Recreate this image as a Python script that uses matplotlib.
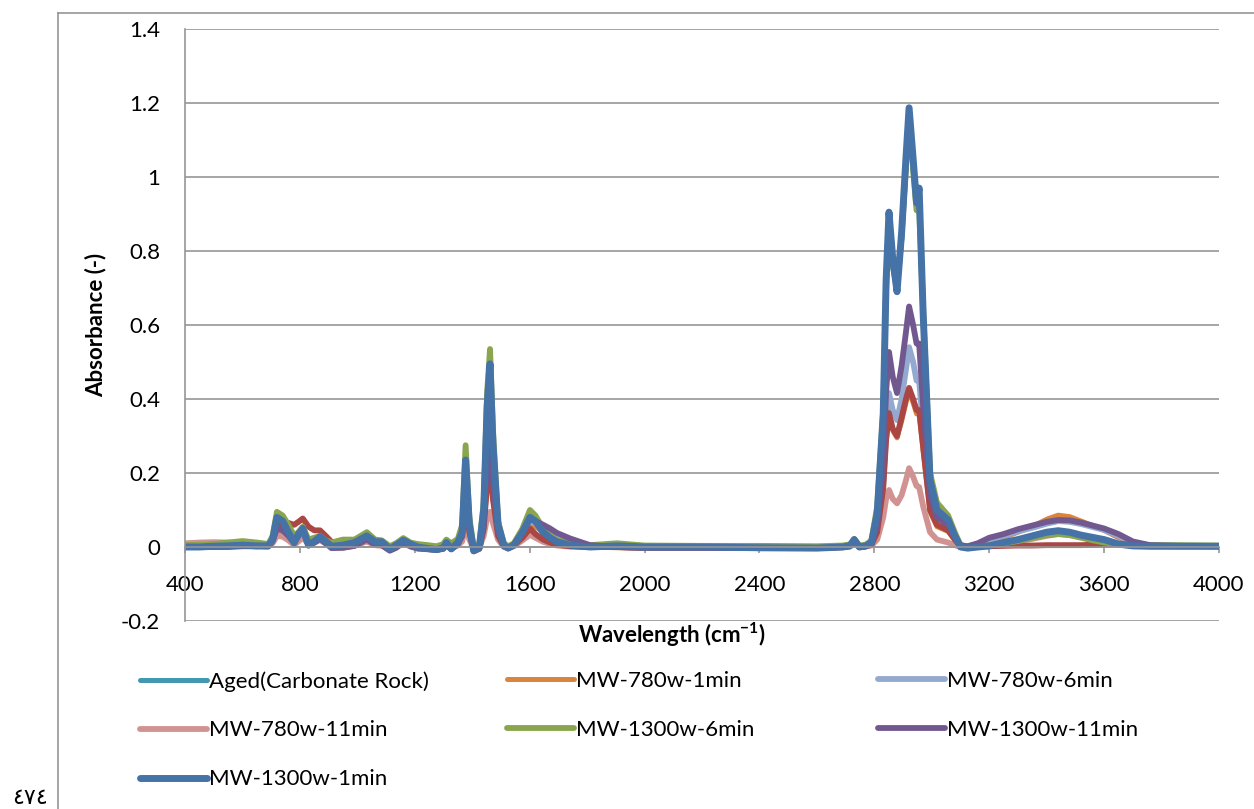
import numpy as np
import matplotlib.pyplot as plt
from matplotlib.lines import Line2D

plt.rcParams['font.family'] = ['Lato', 'DejaVu Sans']
plt.rcParams['mathtext.fontset'] = 'custom'
plt.rcParams['mathtext.rm'] = 'Lato'
plt.rcParams['mathtext.bf'] = 'Lato:bold'

# wavenumber grid (cm-1)
wn = [400, 450, 500, 550, 600, 650, 690, 705, 720, 740, 760, 780, 795, 810, 830, 850, 870, 890, 910, 950, 990,
      1033, 1062, 1085, 1113, 1135, 1160, 1185, 1210, 1245, 1276, 1299, 1310, 1327, 1350,
      1365, 1377, 1390, 1405, 1425, 1440, 1452, 1462, 1472, 1490, 1510, 1525, 1545, 1575, 1601, 1620, 1647, 1671, 1695, 1741, 1810,
      1904, 2000, 2200, 2400, 2600, 2690, 2715, 2730, 2748, 2770, 2790,
      2810, 2831, 2841, 2851, 2864, 2879, 2895, 2910, 2921, 2935, 2947, 2956, 2970, 2994, 3018, 3057, 3080, 3100, 3125, 3160,
      3200, 3250, 3300, 3350, 3400, 3440, 3480, 3520, 3560, 3600, 3650, 3700, 3760, 3850, 4000]

aged = [0.0, 0.0, 0.002, 0.003, 0.004, 0.003, 0.003, 0.018, 0.07, 0.062, 0.036, 0.01, 0.03, 0.045, 0.004, 0.013, 0.025, 0.013, 0.002, 0.004, 0.01,
        0.026, 0.012, 0.012, -0.006, 0.004, 0.016, 0.007, 0.0, -0.004, -0.006, -0.002, 0.01, -0.004, 0.01,
        0.035, 0.21, 0.055, -0.01, 0.0, 0.09, 0.34, 0.45, 0.25, 0.055, 0.004, -0.003, 0.005, 0.035, 0.07, 0.062, 0.036, 0.022, 0.012, 0.004, 0.0,
        0.002, 0.0, 0.0, -0.002, -0.003, 0.0, 0.003, 0.018, 0.0, 0.003, 0.01,
        0.08, 0.34, 0.7, 0.88, 0.76, 0.69, 0.83, 1.02, 1.15, 1.03, 0.92, 0.95, 0.62, 0.17, 0.095, 0.07, 0.028, 0.0, -0.003, 0.0,
        0.003, 0.012, 0.02, 0.03, 0.038, 0.042, 0.038, 0.03, 0.024, 0.018, 0.007, 0.003, 0.002, 0.002, 0.002]

mw780_1 = [0.0, 0.0, 0.0, 0.002, 0.003, 0.002, 0.0, 0.012, 0.045, 0.04, 0.025, 0.006, 0.025, 0.04, 0.003, 0.01, 0.018, 0.008, -0.002, -0.003, 0.002,
           0.016, 0.004, 0.003, -0.01, -0.003, 0.01, 0.0, -0.005, -0.007, -0.009, -0.006, 0.004, -0.007, 0.006,
           0.025, 0.15, 0.04, -0.012, -0.006, 0.045, 0.18, 0.24, 0.13, 0.03, 0.0, -0.005, 0.003, 0.032, 0.06, 0.055, 0.04, 0.028, 0.017, 0.008, 0.0,
           -0.002, -0.004, -0.003, -0.004, -0.004, -0.002, 0.0, 0.012, -0.002, 0.0, 0.005,
           0.04, 0.155, 0.285, 0.355, 0.315, 0.295, 0.34, 0.39, 0.42, 0.39, 0.36, 0.36, 0.26, 0.095, 0.055, 0.042, 0.02, 0.002, 0.0, 0.005,
           0.015, 0.025, 0.04, 0.055, 0.075, 0.086, 0.082, 0.07, 0.058, 0.045, 0.025, 0.01, 0.004, 0.002, 0.002]

mw780_6 = [0.0, 0.0, 0.002, 0.003, 0.004, 0.003, 0.003, 0.015, 0.055, 0.048, 0.03, 0.01, 0.03, 0.045, 0.005, 0.013, 0.022, 0.01, 0.0, 0.0, 0.004,
           0.02, 0.007, 0.006, -0.008, 0.0, 0.012, 0.003, -0.003, -0.005, -0.007, -0.004, 0.006, -0.005, 0.008,
           0.03, 0.16, 0.045, -0.01, -0.004, 0.05, 0.2, 0.27, 0.15, 0.035, 0.003, -0.003, 0.005, 0.038, 0.07, 0.065, 0.05, 0.035, 0.022, 0.012, 0.003,
           0.0, -0.002, -0.002, -0.003, -0.003, 0.0, 0.003, 0.015, 0.0, 0.002, 0.007,
           0.05, 0.18, 0.34, 0.416, 0.37, 0.343, 0.4, 0.48, 0.54, 0.5, 0.45, 0.45, 0.32, 0.12, 0.07, 0.055, 0.025, 0.004, 0.002, 0.008,
           0.02, 0.03, 0.042, 0.052, 0.063, 0.07, 0.068, 0.062, 0.054, 0.046, 0.03, 0.012, 0.004, 0.003, 0.002]

mw780_11 = [0.01, 0.012, 0.013, 0.012, 0.01, 0.008, 0.004, 0.01, 0.03, 0.028, 0.018, 0.005, 0.015, 0.025, 0.008, 0.02, 0.03, 0.02, 0.008, 0.002, 0.004,
            0.015, 0.005, 0.004, -0.006, 0.0, 0.01, 0.002, -0.003, -0.005, -0.006, -0.004, 0.004, -0.004, 0.004,
            0.015, 0.06, 0.02, -0.005, 0.0, 0.03, 0.08, 0.095, 0.065, 0.02, 0.0, -0.003, 0.002, 0.018, 0.033, 0.025, 0.014, 0.008, 0.004, 0.001, 0.0,
            0.0, -0.002, -0.002, -0.002, -0.002, 0.0, 0.002, 0.01, 0.0, 0.002, 0.004,
            0.02, 0.08, 0.13, 0.154, 0.13, 0.118, 0.14, 0.18, 0.213, 0.19, 0.165, 0.162, 0.11, 0.04, 0.02, 0.012, 0.005, 0.0, -0.002, 0.0,
            0.004, 0.01, 0.016, 0.022, 0.03, 0.035, 0.033, 0.027, 0.02, 0.014, 0.006, 0.003, 0.002, 0.002, 0.002]

# red series, drawn but not listed in the legend
unlisted = [0.0, 0.0, 0.0, 0.0, 0.002, 0.002, 0.005, 0.02, 0.055, 0.06, 0.065, 0.06, 0.068, 0.077, 0.055, 0.045, 0.045, 0.03, 0.014, 0.005, 0.008,
            0.025, 0.01, 0.008, -0.004, 0.002, 0.015, 0.004, -0.002, -0.004, -0.006, -0.003, 0.008, -0.004, 0.008,
            0.03, 0.14, 0.04, -0.008, -0.003, 0.05, 0.17, 0.216, 0.13, 0.03, 0.002, -0.002, 0.004, 0.025, 0.05, 0.035, 0.02, 0.012, 0.006, 0.002, 0.0,
            0.0, -0.002, -0.002, -0.003, -0.002, 0.0, 0.003, 0.015, 0.0, 0.002, 0.006,
            0.04, 0.16, 0.29, 0.362, 0.32, 0.3, 0.35, 0.4, 0.43, 0.4, 0.37, 0.37, 0.27, 0.1, 0.06, 0.045, 0.02, 0.002, 0.0, 0.002,
            0.002, 0.003, 0.004, 0.004, 0.005, 0.005, 0.005, 0.005, 0.006, 0.007, 0.008, 0.005, 0.003, 0.002, 0.002]

mw1300_6 = [0.005, 0.006, 0.008, 0.012, 0.016, 0.012, 0.008, 0.03, 0.095, 0.085, 0.06, 0.03, 0.04, 0.055, 0.02, 0.025, 0.03, 0.018, 0.012, 0.02, 0.02,
            0.04, 0.02, 0.018, 0.002, 0.01, 0.024, 0.012, 0.008, 0.005, 0.002, 0.008, 0.02, 0.01, 0.022,
            0.06, 0.275, 0.08, 0.0, 0.01, 0.12, 0.42, 0.535, 0.32, 0.07, 0.01, 0.002, 0.01, 0.05, 0.1, 0.085, 0.05, 0.03, 0.018, 0.01, 0.005,
            0.01, 0.004, 0.003, 0.003, 0.002, 0.004, 0.007, 0.022, 0.004, 0.006, 0.018,
            0.11, 0.37, 0.7, 0.86, 0.76, 0.7, 0.84, 1.03, 1.17, 1.02, 0.91, 0.92, 0.64, 0.2, 0.12, 0.085, 0.04, 0.005, 0.0, 0.002,
            0.005, 0.01, 0.016, 0.024, 0.032, 0.035, 0.032, 0.025, 0.018, 0.012, 0.007, 0.005, 0.005, 0.005, 0.004]

mw1300_11 = [0.0, 0.0, 0.002, 0.003, 0.004, 0.002, 0.002, 0.015, 0.05, 0.045, 0.03, 0.01, 0.03, 0.045, 0.005, 0.012, 0.022, 0.01, -0.003, -0.002, 0.003,
             0.02, 0.006, 0.005, -0.01, -0.002, 0.012, 0.002, -0.004, -0.006, -0.008, -0.005, 0.006, -0.006, 0.008,
             0.03, 0.19, 0.05, -0.012, -0.005, 0.06, 0.24, 0.316, 0.18, 0.04, 0.003, -0.003, 0.006, 0.04, 0.075, 0.07, 0.06, 0.05, 0.038, 0.023, 0.005,
             0.0, -0.002, -0.002, -0.003, -0.003, 0.0, 0.003, 0.015, 0.0, 0.002, 0.008,
             0.06, 0.22, 0.42, 0.527, 0.46, 0.416, 0.49, 0.58, 0.65, 0.6, 0.55, 0.55, 0.38, 0.14, 0.08, 0.06, 0.03, 0.005, 0.002, 0.01,
             0.025, 0.035, 0.048, 0.058, 0.068, 0.073, 0.072, 0.066, 0.058, 0.05, 0.035, 0.015, 0.005, 0.003, 0.002]

mw1300_1 = [0.0, 0.0, 0.002, 0.003, 0.005, 0.003, 0.003, 0.02, 0.08, 0.07, 0.04, 0.012, 0.035, 0.05, 0.005, 0.015, 0.028, 0.015, 0.002, 0.005, 0.012,
            0.03, 0.014, 0.014, -0.006, 0.005, 0.018, 0.008, 0.0, -0.004, -0.007, -0.002, 0.012, -0.005, 0.012,
            0.04, 0.235, 0.06, -0.01, 0.0, 0.1, 0.38, 0.495, 0.28, 0.06, 0.005, -0.003, 0.005, 0.04, 0.08, 0.07, 0.04, 0.025, 0.014, 0.005, 0.0,
            0.003, 0.0, 0.0, -0.002, -0.003, 0.0, 0.003, 0.02, 0.0, 0.003, 0.012,
            0.09, 0.36, 0.72, 0.905, 0.78, 0.69, 0.85, 1.05, 1.187, 1.05, 0.93, 0.97, 0.63, 0.18, 0.1, 0.073, 0.03, 0.0, -0.003, 0.0,
            0.003, 0.012, 0.02, 0.03, 0.04, 0.044, 0.04, 0.032, 0.026, 0.02, 0.008, 0.003, 0.002, 0.002, 0.002]

series = [
    ("Aged(Carbonate Rock)", aged, '#4198AF', 3.6),
    ("MW-780w-1min", mw780_1, '#DB843D', 3.6),
    ("MW-780w-6min", mw780_6, '#93A9CF', 4.2),
    ("MW-780w-11min", mw780_11, '#D19392', 4.2),
    (None, unlisted, '#AA4643', 4.2),
    ("MW-1300w-6min", mw1300_6, '#89A54E', 4.2),
    ("MW-1300w-11min", mw1300_11, '#71588F', 4.2),
    ("MW-1300w-1min", mw1300_1, '#4572A7', 5.0),
]

fig = plt.figure(figsize=(12.54, 8.09), dpi=100)
ax = fig.add_axes([185/1254, 1-621/809, 1034/1254, 592/809])

handles = {}
for name, vals, col, lw in series:
    ln, = ax.plot(wn, vals, color=col, lw=lw, solid_joinstyle='round', solid_capstyle='round')
    if name:
        handles[name] = ln

ax.set_xlim(400, 4000)
ax.set_ylim(-0.2, 1.4)
ax.set_xticks(np.arange(400, 4001, 400))
yt = np.round(np.arange(-0.2, 1.41, 0.2), 1)
ax.set_yticks(yt)
ax.set_yticklabels([f"{v:g}" for v in yt])
ax.grid(axis='y', color='#969696', lw=1.2)
ax.set_axisbelow(True)
for s in ['top', 'right']:
    ax.spines[s].set_visible(False)
ax.spines['left'].set_color('#969696')
ax.spines['left'].set_linewidth(1.2)
ax.spines['bottom'].set_position(('data', 0))
ax.spines['bottom'].set_color('#969696')
ax.spines['bottom'].set_linewidth(1.2)
ax.tick_params(axis='x', direction='out', length=4, width=1.2, color='#969696', pad=16, labelsize=16)
ax.tick_params(axis='y', length=0, pad=18, labelsize=16)

ax.set_ylabel("Absorbance (-)", fontsize=16, fontweight='bold')
ax.yaxis.set_label_coords(-0.076, 0.5)
fig.text(672/1254, 1-635/809, r"Wavelength (cm$\mathbf{^{-1}}$)", fontsize=16, fontweight='bold',
         ha='center', va='center')

# legend laid out in three columns like the original
cols = [["Aged(Carbonate Rock)", "MW-780w-11min", "MW-1300w-1min"],
        ["MW-780w-1min", "MW-1300w-6min"],
        ["MW-780w-6min", "MW-1300w-11min"]]
col_x = [140, 507, 878]
for names, x0 in zip(cols, col_x):
    fig.legend([handles[n] for n in names], names, loc='upper left',
               bbox_to_anchor=(x0/1254, 1-671/809), frameon=False, fontsize=16,
               handlelength=3.0, handletextpad=0.1, labelspacing=1.3, borderpad=0, borderaxespad=0)

# outer chart frame
fig.add_artist(Line2D([58/1254, 58/1254], [0, 1-13/809], color='#969696', lw=1.2, transform=fig.transFigure))
fig.add_artist(Line2D([58/1254, 1], [1-13/809, 1-13/809], color='#969696', lw=1.2, transform=fig.transFigure))

fig.text(12/1254, 1-798/809, "٤٧٤", fontsize=16, family=['DejaVu Sans', 'Noto Sans'], va='center', ha='left')

fig.savefig("out.png", dpi=100)
